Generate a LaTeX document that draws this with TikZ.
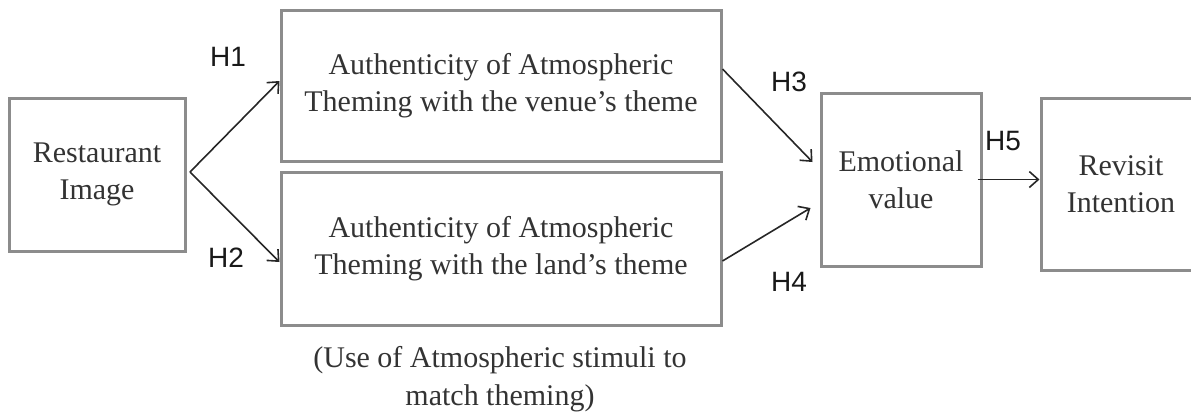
\documentclass[tikz,border=0pt]{standalone}
\usepackage{fontspec}
\setmainfont{Liberation Serif}
\newfontfamily\hfont{Liberation Sans}
\usepackage{tikz}
\usetikzlibrary{arrows.meta,positioning}
\tikzset{
  box/.style={draw=black!45, line width=1.5pt, align=center, inner sep=0pt, text=black!80, font=\fontsize{15}{18.5}\selectfont},
  construct/.style={box, minimum width=88pt, minimum height=76.5pt},
  wide/.style={box, minimum width=220pt, minimum height=75.5pt},
  link/.style={-{Straight Barb[length=4.5pt,width=8pt]}, line width=0.8pt, draw=black!85},
  hyp/.style={font=\hfont\fontsize{14}{16}\selectfont, text=black!90, inner sep=0pt},
  note/.style={align=center, inner sep=0pt, text=black!80, font=\fontsize{15}{19}\selectfont}
}

\begin{document}
\begin{tikzpicture}[x=0.5pt, y=-0.5pt]
  \useasboundingbox (0,0) rectangle (1191,414);
  \clip (0,0) rectangle (1191,414);

  \node[construct] (rest) at (97,174.5) {Restaurant\\Image};
  \node[wide] (venue) at (501,86) {Authenticity of Atmospheric\\Theming with the venue’s theme};
  \node[wide, minimum height=76.5pt] (land) at (501,248.5) {Authenticity of Atmospheric\\Theming with the land’s theme};
  \node[construct, minimum width=80pt, minimum height=86.5pt] (emo) at (901,179.5) {Emotional\\value};
  \node[construct, minimum width=80pt, minimum height=86pt] (rev) at (1121,184) {Revisit\\Intention};
  \node[note] (stimuli) at (500,379) {(Use of Atmospheric stimuli to\\match theming)};

  % image splits into the two theming paths
  \coordinate (fork) at (190,172);
  \draw[link] (fork) -- ([yshift=2.5pt]venue.west);
  \draw[link] (fork) -- ([yshift=-6.75pt]land.west);
  \draw[link] ([yshift=8.5pt]venue.east) -- ([xshift=-3.5pt,yshift=8.75pt]emo.west);
  \draw[link] ([yshift=-6.25pt]land.east) -- ([xshift=-4.5pt,yshift=-14.25pt]emo.west);
  \draw[link] ([xshift=-2.5pt]emo.east) -- ([yshift=2.25pt]rev.west);

  % hypothesis labels
  \node[hyp] (h1) at (228,57) {H1};
  \node[hyp] (h2) at (226,258) {H2};
  \node[hyp] (h3) at (789,82) {H3};
  \node[hyp] (h4) at (789,282) {H4};
  \node[hyp] (h5) at (1003,141) {H5};
\end{tikzpicture}
\end{document}
